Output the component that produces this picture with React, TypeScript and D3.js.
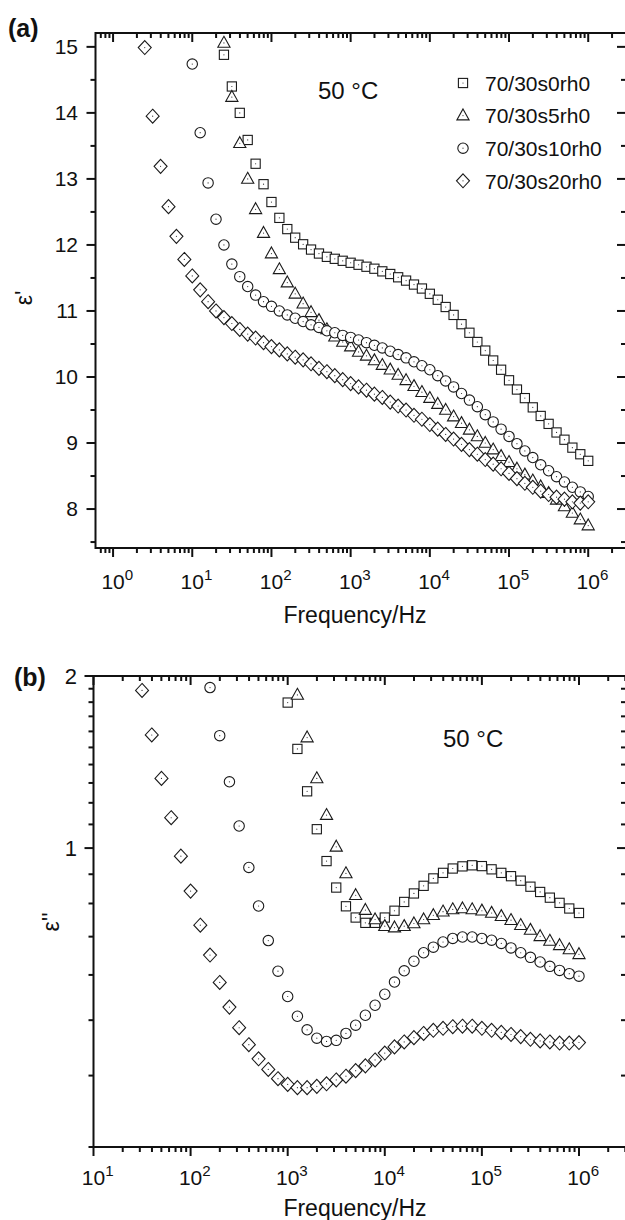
import React from 'react';
import * as d3 from 'd3';

// Measurement frequencies (Hz), 10 points per decade, 1 Hz .. 1 MHz
const freqHz = [
  1, 1.259, 1.585, 1.995, 2.512, 3.162, 3.981, 5.012, 6.31, 7.943,
  10, 12.59, 15.85, 19.95, 25.12, 31.62, 39.81, 50.12, 63.1, 79.43,
  100, 125.9, 158.5, 199.5, 251.2, 316.2, 398.1, 501.2, 631, 794.3,
  1000, 1259, 1585, 1995, 2512, 3162, 3981, 5012, 6310, 7943,
  10000, 12589, 15849, 19953, 25119, 31623, 39811, 50119, 63096, 79433,
  100000, 125893, 158489, 199526, 251189, 316228, 398107, 501187, 630957, 794328,
  1000000,
];

const seriesNames = ['70/30s0rh0', '70/30s5rh0', '70/30s10rh0', '70/30s20rh0'];
const seriesShapes = ['square', 'triangle', 'circle', 'diamond'];

// (a) real permittivity ε' — every series ends at 1 MHz
const epsReal_s0 = [
  14.88, 14.4, 14.0, 13.59, 13.23, 12.92, 12.65, 12.41, 12.24, 12.11,
  12.01, 11.93, 11.87, 11.82, 11.79, 11.76, 11.73, 11.7, 11.67, 11.64,
  11.6, 11.56, 11.51, 11.46, 11.4, 11.34, 11.26, 11.17, 11.06, 10.94,
  10.8, 10.67, 10.53, 10.4, 10.25, 10.11, 9.95, 9.81, 9.68, 9.54,
  9.41, 9.29, 9.16, 9.05, 8.93, 8.83, 8.73,
];
const epsReal_s5 = [
  15.06, 14.24, 13.54, 13.0, 12.54, 12.18, 11.87, 11.63, 11.43, 11.26,
  11.11, 10.98, 10.86, 10.72, 10.61, 10.53, 10.46, 10.38, 10.32, 10.25,
  10.18, 10.11, 10.03, 9.95, 9.86, 9.77, 9.68, 9.59, 9.5, 9.4,
  9.3, 9.2, 9.1, 9.0, 8.9, 8.8, 8.71, 8.61, 8.52, 8.43,
  8.34, 8.24, 8.14, 8.04, 7.94, 7.84, 7.75,
];
const epsReal_s10 = [
  14.74, 13.7, 12.94, 12.39, 12.0, 11.71, 11.52, 11.37, 11.24, 11.14,
  11.07, 11.0, 10.94, 10.89, 10.84, 10.79, 10.75, 10.7, 10.67, 10.63,
  10.6, 10.56, 10.52, 10.48, 10.44, 10.39, 10.34, 10.29, 10.23, 10.17,
  10.11, 10.02, 9.94, 9.85, 9.75, 9.65, 9.55, 9.43, 9.32, 9.21,
  9.1, 8.99, 8.88, 8.78, 8.67, 8.58, 8.49, 8.41, 8.33, 8.26,
  8.19,
];
const epsReal_s20 = [
  14.99, 13.95, 13.19, 12.58, 12.13, 11.78, 11.53, 11.32, 11.14, 11.0,
  10.9, 10.81, 10.72, 10.65, 10.59, 10.52, 10.46, 10.41, 10.35, 10.3,
  10.26, 10.2, 10.13, 10.08, 10.02, 9.96, 9.9, 9.85, 9.8, 9.74,
  9.69, 9.62, 9.56, 9.5, 9.42, 9.36, 9.28, 9.21, 9.13, 9.06,
  8.98, 8.9, 8.83, 8.75, 8.68, 8.61, 8.54, 8.46, 8.39, 8.33,
  8.27, 8.22, 8.18, 8.15, 8.11, 8.09, 8.11,
];

// (b) loss ε''
const epsImag_s0 = [
  1.797, 1.491, 1.257, 1.079, 0.949, 0.853, 0.791, 0.756, 0.74, 0.74,
  0.756, 0.777, 0.805, 0.833, 0.859, 0.885, 0.905, 0.921, 0.929, 0.933,
  0.93, 0.918, 0.905, 0.893, 0.877, 0.856, 0.838, 0.819, 0.802, 0.784,
  0.77,
];
const epsImag_s5 = [
  1.853, 1.561, 1.324, 1.142, 1.005, 0.903, 0.827, 0.779, 0.75, 0.73,
  0.726, 0.73, 0.738, 0.75, 0.763, 0.774, 0.781, 0.784, 0.781, 0.777,
  0.77, 0.76, 0.748, 0.733, 0.719, 0.701, 0.688, 0.676, 0.665, 0.652,
];
const epsImag_s10 = [
  1.909, 1.573, 1.306, 1.093, 0.925, 0.792, 0.689, 0.609, 0.55, 0.508,
  0.481, 0.465, 0.459, 0.461, 0.474, 0.49, 0.51, 0.531, 0.555, 0.583,
  0.61, 0.634, 0.656, 0.671, 0.685, 0.695, 0.699, 0.699, 0.695, 0.69,
  0.681, 0.669, 0.656, 0.644, 0.632, 0.621, 0.611, 0.603, 0.597,
];
const epsImag_s20 = [
  1.887, 1.577, 1.324, 1.13, 0.968, 0.841, 0.733, 0.65, 0.582, 0.527,
  0.485, 0.453, 0.428, 0.41, 0.395, 0.386, 0.381, 0.381, 0.383, 0.387,
  0.393, 0.399, 0.408, 0.416, 0.426, 0.438, 0.449, 0.458, 0.466, 0.474,
  0.48, 0.484, 0.487, 0.488, 0.488, 0.484, 0.48, 0.476, 0.472, 0.468,
  0.463, 0.46, 0.458, 0.456, 0.456, 0.457,
];

const yTicksA = [8, 9, 10, 11, 12, 13, 14, 15];
const xDecadesA = [0, 1, 2, 3, 4, 5, 6];
const xDecadesB = [1, 2, 3, 4, 5, 6];
const yTicksB = [1, 2];

const FONT = '"Liberation Sans", Arial, Helvetica, sans-serif';
const INK = '#111';

function Marker({ shape, x, y }: { shape: string; x: number; y: number }) {
  const common = { fill: '#fff', stroke: '#1a1a1a', strokeWidth: 1.1 };
  let el;
  if (shape === 'square') el = <rect x={-4.6} y={-4.6} width={9.2} height={9.2} {...common} />;
  else if (shape === 'triangle') el = <polygon points="0,-6.6 6.1,4.3 -6.1,4.3" {...common} />;
  else if (shape === 'circle') el = <circle r={5.2} {...common} />;
  else el = <polygon points="0,-7 6.5,0 0,7 -6.5,0" {...common} />;
  return (
    <g transform={`translate(${x},${y})`}>
      {el}
      <circle r={0.6} fill="#333" />
    </g>
  );
}

function seriesPoints(values: number[]) {
  const start = freqHz.length - values.length;
  return values.map((v, i) => ({ f: freqHz[start + i], v }));
}

function logMinors(lo: number, hi: number) {
  const out: number[] = [];
  for (let e = -1; e <= 7; e++) {
    for (let k = 2; k <= 9; k++) {
      const v = k * Math.pow(10, e);
      if (v > lo * 1.001 && v < hi * 0.999) out.push(v);
    }
  }
  return out;
}

function Frame({ left, right, top, bottom }: any) {
  return (
    <g stroke={INK} strokeWidth={2} fill="none">
      <line x1={left} x2={right} y1={top} y2={top} />
      <line x1={left} x2={right} y1={bottom} y2={bottom} />
      <line x1={left} x2={left} y1={top - 1} y2={bottom + 1} />
      <line x1={right} x2={right} y1={top} y2={bottom} />
    </g>
  );
}

function PowLabel({ x, y, exp, size }: { x: number; y: number; exp: number; size: number }) {
  const w10 = size * 1.112;
  return (
    <text x={x - w10 / 2} y={y} fontSize={size} fontFamily={FONT} fill={INK}>
      10
      <tspan dy={-size * 0.42} fontSize={size * 0.72}>
        {exp}
      </tspan>
    </text>
  );
}

export default function App() {
  // ---------- panel (a) ----------
  const A = { left: 95.5, right: 626, top: 33, bottom: 548 };
  const xA = d3.scaleLog().domain([0.6, 3e6]).range([A.left, A.right]);
  const yA = d3.scaleLinear().domain([7.41, 15.21]).range([A.bottom, A.top]);
  const minorXA = logMinors(0.6, 3e6);
  const minorYA = d3.range(7.5, 15.2, 1);

  // ---------- panel (b) ----------
  const B = { left: 93.5, right: 626, top: 676, bottom: 1147 };
  const xB = d3.scaleLog().domain([10, 3.05e6]).range([B.left, B.right]);
  const yB = d3.scaleLog().domain([0.3, 2]).range([B.bottom, B.top]);
  const minorXB = logMinors(10, 3.05e6);
  const minorYB = [0.3, 0.4, 0.5, 0.6, 0.7, 0.8, 0.9, 1.1, 1.2, 1.3, 1.4, 1.5, 1.6, 1.7, 1.8, 1.9];

  const realSeries = [epsReal_s0, epsReal_s5, epsReal_s10, epsReal_s20];
  const imagSeries = [epsImag_s0, epsImag_s5, epsImag_s10, epsImag_s20];

  const MAJ = 9;
  const MIN = 5;

  return (
    <svg
      width={625}
      height={1220}
      style={{ position: 'absolute', left: 0, top: 0, background: '#fff' }}
      fontFamily={FONT}
    >
      <rect x={0} y={0} width={625} height={1220} fill="#fff" />

      {/* ======== Panel (a) ======== */}
      <text x={8} y={37} fontSize={25} fontWeight="bold" fill={INK}>(a)</text>
      <g stroke={INK} strokeWidth={2}>
        {xDecadesA.map((e) => {
          const x = xA(Math.pow(10, e));
          return (
            <g key={'xa' + e}>
              <line x1={x} x2={x} y1={A.bottom} y2={A.bottom + MAJ} />
              <line x1={x} x2={x} y1={A.top} y2={A.top + MAJ} />
            </g>
          );
        })}
        {minorXA.map((v, i) => {
          const x = xA(v);
          return (
            <g key={'xam' + i}>
              <line x1={x} x2={x} y1={A.bottom} y2={A.bottom + MIN} />
              <line x1={x} x2={x} y1={A.top} y2={A.top + MIN} />
            </g>
          );
        })}
        {yTicksA.map((v) => {
          const y = yA(v);
          return (
            <g key={'ya' + v}>
              <line x1={A.left - MAJ} x2={A.left} y1={y} y2={y} />
              <line x1={A.right - MAJ} x2={A.right} y1={y} y2={y} />
            </g>
          );
        })}
        {minorYA.map((v, i) => {
          const y = yA(v);
          return (
            <g key={'yam' + i}>
              <line x1={A.left - MIN} x2={A.left} y1={y} y2={y} />
              <line x1={A.right - MIN} x2={A.right} y1={y} y2={y} />
            </g>
          );
        })}
      </g>
      <Frame {...A} />
      {yTicksA.map((v) => (
        <text key={'yal' + v} x={78} y={yA(v) + 7.3} fontSize={21} textAnchor="end" fill={INK}>
          {v}
        </text>
      ))}
      {xDecadesA.map((e) => (
        <PowLabel key={'xal' + e} x={xA(Math.pow(10, e))} y={589} exp={e} size={21} />
      ))}
      <text x={355} y={623} fontSize={23} textAnchor="middle" fill={INK}>Frequency/Hz</text>
      <text transform="translate(32,298) rotate(-90)" fontSize={23} textAnchor="middle" fill={INK}>ε'</text>
      <text x={318} y={99} fontSize={24} fill={INK}>50 °C</text>

      {/* legend */}
      {seriesNames.map((name, i) => (
        <g key={'leg' + i}>
          <Marker shape={seriesShapes[i]} x={463} y={83 + i * 32.6} />
          <text x={485} y={90.7 + i * 32.6} fontSize={21} fill={INK}>{name}</text>
        </g>
      ))}

      {/* data (a) */}
      {realSeries.map((vals, si) => (
        <g key={'ra' + si}>
          {seriesPoints(vals)
            .filter((p) => p.v <= 15.21)
            .map((p, i) => (
              <Marker key={i} shape={seriesShapes[si]} x={xA(p.f)} y={yA(p.v)} />
            ))}
        </g>
      ))}

      {/* ======== Panel (b) ======== */}
      <text x={14} y={686} fontSize={25} fontWeight="bold" fill={INK}>(b)</text>
      <g stroke={INK} strokeWidth={2}>
        {xDecadesB.map((e) => {
          const x = xB(Math.pow(10, e));
          return (
            <g key={'xb' + e}>
              <line x1={x} x2={x} y1={B.bottom} y2={B.bottom + MAJ} />
              <line x1={x} x2={x} y1={B.top} y2={B.top + MAJ} />
            </g>
          );
        })}
        {minorXB.map((v, i) => {
          const x = xB(v);
          return (
            <g key={'xbm' + i}>
              <line x1={x} x2={x} y1={B.bottom} y2={B.bottom + MIN} />
              <line x1={x} x2={x} y1={B.top} y2={B.top + MIN} />
            </g>
          );
        })}
        {yTicksB.map((v) => {
          const y = yB(v);
          return (
            <g key={'yb' + v}>
              <line x1={B.left - MAJ} x2={B.left} y1={y} y2={y} />
              <line x1={B.right - MAJ} x2={B.right} y1={y} y2={y} />
            </g>
          );
        })}
        {minorYB.map((v, i) => {
          const y = yB(v);
          return (
            <g key={'ybm' + i}>
              <line x1={B.left - MIN} x2={B.left} y1={y} y2={y} />
              <line x1={B.right - MIN} x2={B.right} y1={y} y2={y} />
            </g>
          );
        })}
      </g>
      <Frame {...B} />
      {yTicksB.map((v) => (
        <text key={'ybl' + v} x={77} y={yB(v) + 7.5} fontSize={22} textAnchor="end" fill={INK}>
          {v}
        </text>
      ))}
      {xDecadesB.map((e) => (
        <PowLabel key={'xbl' + e} x={xB(Math.pow(10, e))} y={1185} exp={e} size={21} />
      ))}
      <text x={355} y={1216} fontSize={23} textAnchor="middle" fill={INK}>Frequency/Hz</text>
      <text transform="translate(59,922) rotate(-90)" fontSize={23} textAnchor="middle" fill={INK}>ε''</text>
      <text x={443} y={747} fontSize={24} fill={INK}>50 °C</text>

      {/* data (b) */}
      {imagSeries.map((vals, si) => (
        <g key={'ib' + si}>
          {seriesPoints(vals).map((p, i) => (
            <Marker key={i} shape={seriesShapes[si]} x={xB(p.f)} y={yB(p.v)} />
          ))}
        </g>
      ))}
    </svg>
  );
}
